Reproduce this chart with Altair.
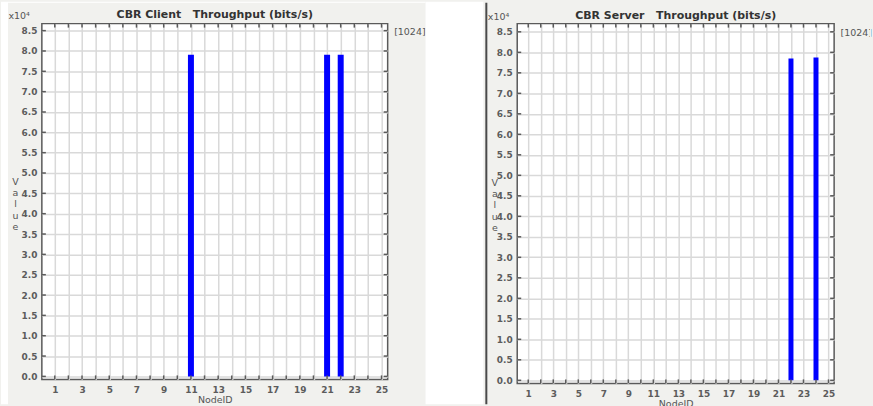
import altair as alt
import pandas as pd

# ---------------- data ----------------
nodes = list(range(1, 26))
client_values = [0, 0, 0, 0, 0, 0, 0, 0, 0, 0, 79100, 0, 0, 0, 0,
                 0, 0, 0, 0, 0, 79100, 79100, 0, 0, 0]
server_values = [0, 0, 0, 0, 0, 0, 0, 0, 0, 0, 0, 0, 0, 0, 0,
                 0, 0, 0, 0, 0, 0, 78500, 0, 78750, 0]
x_ticks = list(range(1, 26))
y_ticks = list(range(0, 85001, 5000))

client_title = "CBR Client\u00a0\u00a0 Throughput (bits/s)"
server_title = "CBR Server\u00a0\u00a0 Throughput (bits/s)"

# ---------------- style ----------------
FONT = "DejaVu Sans"
BG = "#f1f1ee"
GRID = "#d9d9d9"
FRAME = "#5a5a5a"
LABEL = "#5c5c5c"
BLUE = "#0000ff"


def one_row():
    return pd.DataFrame({"k": [0]})


def panel(title, values, W, H, xdom, ydom, bar_size,
          x10_dx, x10_dy, val_x, val_y, br_dx, br_dy, title_offset, extras):
    xs = alt.Scale(domain=xdom, nice=False, zero=False, padding=0)
    ys = alt.Scale(domain=ydom, nice=False, zero=False, padding=0)
    bars_df = pd.DataFrame({"NodeID": nodes, "Value": values})
    xt_df = pd.DataFrame({"NodeID": x_ticks})
    yt_df = pd.DataFrame({"Value": y_ticks})

    bars = alt.Chart(bars_df).mark_bar(size=bar_size, color=BLUE, orient="vertical").encode(
        x=alt.X("NodeID:Q", scale=xs,
                axis=alt.Axis(orient="bottom", values=x_ticks,
                              labelExpr="datum.value % 2 == 1 ? datum.label : ''",
                              grid=True, gridColor=GRID, gridWidth=1.5,
                              ticks=False, tickSize=0, domain=False,
                              labelPadding=6, labelFlush=False,
                              title="NodeID", titlePadding=0)),
        y=alt.Y("Value:Q", scale=ys,
                axis=alt.Axis(orient="left", values=y_ticks,
                              labelExpr="format(datum.value / 10000, '.1f')",
                              grid=True, gridColor=GRID, gridWidth=1.5,
                              ticks=False, tickSize=0, domain=False,
                              labelPadding=5,
                              title=["V", "a", "l", "u", "e"], titleAngle=0,
                              titleX=val_x, titleY=val_y, titleAlign="center",
                              titleBaseline="top", titleLineHeight=11.5)),
    )

    top_ticks = alt.Chart(xt_df).mark_rule(color=FRAME, strokeWidth=1.5).encode(
        x=alt.X("NodeID:Q", scale=xs,
                axis=alt.Axis(orient="top", labels=False, ticks=False, domain=False,
                              grid=False, title="x10\u2074", titleX=x10_dx, titleY=x10_dy,
                              titleAngle=0, titleAlign="left", titleBaseline="alphabetic")),
        y=alt.value(0), y2=alt.value(4),
    )
    bot_ticks = alt.Chart(xt_df).mark_rule(color=FRAME, strokeWidth=1.5).encode(
        x=alt.X("NodeID:Q", scale=xs, axis=None),
        y=alt.value(H), y2=alt.value(H - 4),
    )
    left_ticks = alt.Chart(yt_df).mark_rule(color=FRAME, strokeWidth=1.5).encode(
        y=alt.Y("Value:Q", scale=ys, axis=None),
        x=alt.value(0), x2=alt.value(4),
    )
    right_ticks = alt.Chart(yt_df).mark_rule(color=FRAME, strokeWidth=1.5).encode(
        y=alt.Y("Value:Q", scale=ys,
                axis=alt.Axis(orient="right", labels=False, ticks=False, domain=False,
                              grid=False, title="[1024]", titleX=br_dx, titleY=br_dy,
                              titleAngle=0, titleAlign="left", titleBaseline="alphabetic")),
        x=alt.value(W - 4), x2=alt.value(W),
    )

    layers = extras + [bars, top_ticks, bot_ticks, left_ticks, right_ticks]
    return alt.layer(*layers).resolve_axis(x="independent", y="independent").properties(
        width=W, height=H,
        title=alt.TitleParams(title, font=FONT, fontSize=11, fontWeight="bold",
                              color="#333333", anchor="middle", frame="group",
                              offset=title_offset),
    )


# panel geometry
W1, H1 = 347, 357
W2, H2 = 318, 361

left_extras = [
    alt.Chart(one_row()).mark_rect(color="white").encode(
        x=alt.value(-41), x2=alt.value(-34), y=alt.value(-22), y2=alt.value(H1 + 25)),
    alt.Chart(one_row()).mark_rect(color="white").encode(
        x=alt.value(W1 + 38), x2=alt.value(W1 + 96), y=alt.value(-22), y2=alt.value(H1 + 25)),
    alt.Chart(one_row()).mark_rect(color="white").encode(
        x=alt.value(-34), x2=alt.value(W1 + 38), y=alt.value(-22), y2=alt.value(-21)),
]
right_extras = [
    alt.Chart(one_row()).mark_rect(color="#4a4a4a").encode(
        x=alt.value(-32), x2=alt.value(-30), y=alt.value(-21), y2=alt.value(H2 + 21)),
    alt.Chart(one_row()).mark_rect(color=BG).encode(
        x=alt.value(W2 + 36), x2=alt.value(W2 + 37), y=alt.value(-22), y2=alt.value(H2 + 21)),
]

left = panel(client_title, client_values, W1, H1, [0.05, 25.45], [-740, 86725], 6,
             -34, -5, -27, 153, 6, 11, -18, left_extras)
right = panel(server_title, server_values, W2, H2, [0.12, 25.45], [-750, 87000], 5,
              -30, -4, -23, 154, 6, 12, -19, right_extras)

chart = alt.hconcat(left, right, spacing=0).properties(
    padding=0, background=BG
).configure_view(
    fill="white", stroke=FRAME, strokeWidth=1.5
).configure_axis(
    labelFont=FONT, labelFontSize=9, labelColor=LABEL, labelFontWeight="bold",
    titleFont=FONT, titleFontSize=9.5, titleColor="#555555", titleFontWeight="normal",
)

chart.save("out.html", embed_options={"renderer": "svg", "actions": False})
